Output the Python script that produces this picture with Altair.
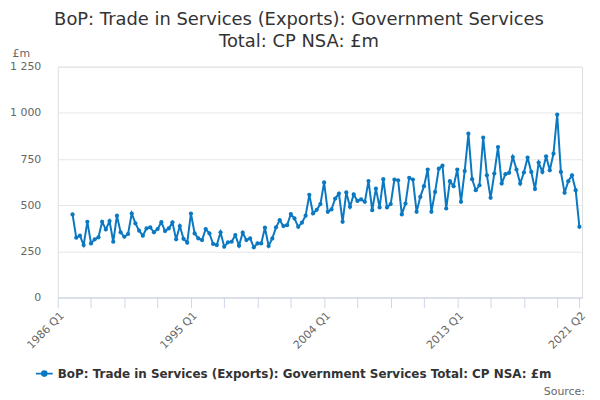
import altair as alt
import pandas as pd

SERIES = "BoP: Trade in Services (Exports): Government Services Total: CP NSA: £m"
START_YEAR = 1987  # first plotted quarter: 1987 Q1

v_1987_1994 = [450, 324, 335, 284, 410, 293, 315, 326, 410, 369, 414, 302, 443, 353, 329, 344,
               455, 401, 362, 335, 374, 380, 353, 371, 408, 360, 374, 407, 315, 387, 318, 297]
v_1995_2003 = [455, 347, 320, 311, 371, 347, 290, 284, 353, 275, 299, 302, 338, 281, 351, 311,
               320, 272, 293, 293, 378, 279, 320, 380, 419, 387, 392, 452, 428, 383, 405, 443,
               556, 455, 475]
v_2003_2012 = [506, 623, 464, 477, 536, 563, 410, 569, 491, 558, 523, 531, 518, 631, 473, 590,
               488, 641, 488, 506, 639, 635, 450, 509, 648, 639, 464, 545, 603, 693, 464, 572,
               698, 714, 482]
v_2012_2021 = [630, 603, 693, 518, 685, 887, 641, 581, 608, 866, 662, 540, 671, 815, 617, 668,
               675, 761, 693, 617, 677, 758, 680, 587, 731, 680, 765, 689, 779, 991, 680, 567,
               630, 662, 581, 383]

values = v_1987_1994 + v_1995_2003 + v_2003_2012 + v_2012_2021
t = [START_YEAR + i / 4 for i in range(len(values))]
quarter = [f"{START_YEAR + i // 4} Q{i % 4 + 1}" for i in range(len(values))]

df = pd.DataFrame({"t": t, "value": values, "quarter": quarter, "series": SERIES})

x_ticks = [1986 + 2.25 * k for k in range(16)] + [2021.25]
y_ticks = [0, 250, 500, 750, 1000, 1250]
BLUE = "#0b78c2"
FONT = "DejaVu Sans"

legend_symbol = "M-1,0H1M-0.27,0A0.27,0.27,0,1,0,0.27,0A0.27,0.27,0,1,0,-0.27,0Z"

line = alt.Chart(df).mark_line(
    strokeWidth=2,
    point=alt.OverlayMarkDef(filled=True, size=18),
).encode(
    x=alt.X(
        "t:Q",
        scale=alt.Scale(domain=[1986, 2021.43], nice=False, zero=False),
        axis=alt.Axis(
            values=x_ticks,
            labelExpr="((datum.value - 1986) % 9 == 0 || datum.value == 2021.25) ? floor(datum.value) + ' Q' + (round((datum.value - floor(datum.value)) * 4) + 1) : ''",
            labelAngle=-45,
            labelAlign="right",
            labelBaseline="top",
            labelPadding=2,
            labelOverlap=False,
            labelFont=FONT,
            labelFontSize=11,
            labelColor="#666666",
            grid=False,
            domainColor="#ccd6eb",
            tickColor="#ccd6eb",
            tickSize=10,
            title=None,
        ),
    ),
    y=alt.Y(
        "value:Q",
        scale=alt.Scale(domain=[0, 1250], nice=False),
        axis=alt.Axis(
            values=y_ticks,
            labelExpr="replace(format(datum.value, ','), ',', ' ')",
            domain=False,
            ticks=False,
            grid=True,
            gridColor="#e6e6e6",
            labelPadding=17,
            labelFont=FONT,
            labelFontSize=11,
            labelColor="#666666",
            title="£m",
            titleAngle=0,
            titleX=-46,
            titleY=-10,
            titleAlign="left",
            titleBaseline="alphabetic",
            titleFont=FONT,
            titleFontSize=11,
            titleFontWeight="normal",
            titleColor="#666666",
        ),
    ),
    color=alt.Color(
        "series:N",
        scale=alt.Scale(range=[BLUE]),
        legend=alt.Legend(
            title=None,
            orient="none",
            legendX=-23,
            legendY=299,
            labelFont=FONT,
            labelFontSize=12,
            labelFontWeight="bold",
            labelColor="#333333",
            labelLimit=700,
            symbolType=legend_symbol,
            symbolSize=289,
            symbolStrokeWidth=2,
            symbolStrokeColor=BLUE,
            symbolFillColor=BLUE,
        ),
    ),
    tooltip=["quarter:N", "value:Q"],
)

source = alt.Chart(pd.DataFrame({"s": ["Source:"]})).mark_text(
    align="right", baseline="alphabetic", fontSize=11, font=FONT, color="#666666"
).encode(text="s:N", x=alt.value(530), y=alt.value(330))

chart = alt.layer(line, source).properties(
    width=527,
    height=232,
    padding={"left": 50, "top": 58, "right": 10, "bottom": 100},
    autosize=alt.AutoSizeParams(type="none"),
    title=alt.Title(
        text=["BoP: Trade in Services (Exports): Government Services", "Total: CP NSA: £m"],
        font=FONT,
        fontSize=18,
        fontWeight="normal",
        color="#333333",
        anchor="middle",
        frame="group",
        dx=-21,
        dy=3,
        offset=0,
        lineHeight=22,
    ),
).configure_view(stroke=None).configure(background="white")

chart.save("out.html", embed_options={"renderer": "svg", "actions": False})
